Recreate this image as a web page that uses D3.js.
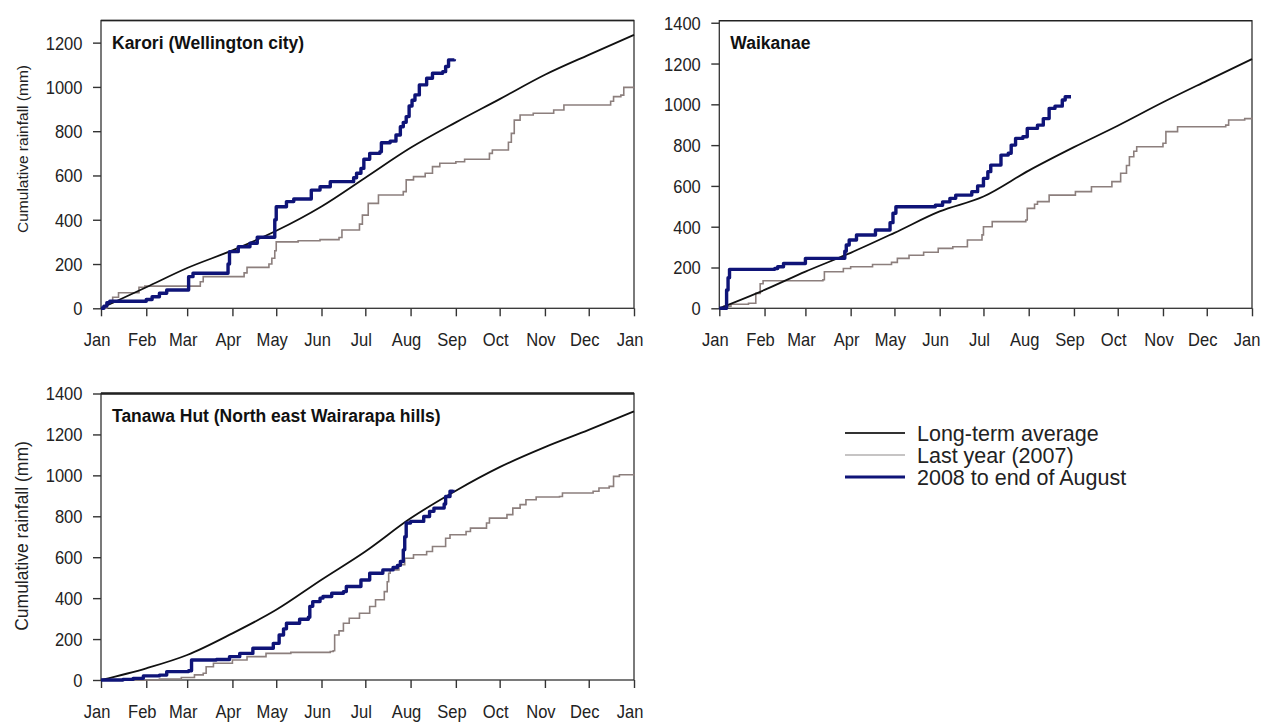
<!DOCTYPE html>
<html>
<head>
<meta charset="utf-8">
<script src="https://cdn.jsdelivr.net/npm/d3@7"></script>
<style>
  body { margin: 0; background: #ffffff; }
  svg { display: block; font-family: "Liberation Sans", Arial, Helvetica, sans-serif; }
</style>
</head>
<body>
<svg id="chart" width="1262" height="724"></svg>
<script>
// ---- Data -------------------------------------------------------------
// Month tick labels and the day-of-year each month starts on
const months = ["Jan", "Feb", "Mar", "Apr", "May", "Jun", "Jul", "Aug", "Sep", "Oct", "Nov", "Dec", "Jan"];
const monthStartDays = [0, 31, 59, 90, 120, 151, 181, 212, 243, 273, 304, 334, 365];

const seriesNames = ["Long-term average", "Last year (2007)", "2008 to end of August"];
const stationNames = ["Karori (Wellington city)", "Waikanae", "Tanawa Hut (North east Wairarapa hills)"];
const yAxisTitle = "Cumulative rainfall (mm)";

// Cumulative rainfall (mm) as [day of year, total]
const karoriAverage = [[0,0],[31,95],[59,182],[90,262],[120,350],[151,460],[181,590],[212,725],[243,840],[273,945],[304,1055],[334,1145],[365,1235]];
const karori2007 = [[0,0],[4,25],[8,50],[12,70],[26,95],[30,100],[68,120],[70,143],[98,160],[100,185],[115,200],[117,226],[119,260],[120,300],[135,305],[150,310],[163,320],[165,354],[177,380],[179,421],[183,474],[190,512],[207,527],[209,580],[214,595],[222,610],[227,640],[232,655],[243,662],[249,673],[266,700],[268,715],[279,750],[281,790],[283,850],[287,873],[296,881],[310,896],[317,918],[349,935],[351,956],[356,963],[358,998],[365,1001]];
const karori2008 = [[0,0],[2,10],[4,25],[6,32],[31,40],[35,52],[40,68],[45,83],[60,143],[63,158],[87,200],[88,256],[94,278],[102,294],[107,321],[119,400],[120,459],[127,482],[132,494],[144,534],[150,549],[157,572],[173,590],[175,610],[178,632],[180,673],[184,700],[191,707],[192,748],[198,755],[202,783],[205,820],[207,840],[209,866],[211,914],[213,940],[215,964],[218,1009],[223,1039],[227,1062],[234,1069],[236,1092],[238,1122],[242,1125]];

const waikanaeAverage = [[0,0],[31,90],[59,180],[90,272],[120,370],[151,475],[181,548],[212,675],[243,790],[273,895],[304,1010],[334,1115],[365,1222]];
const waikanae2007 = [[0,0],[3,10],[8,20],[20,25],[25,73],[28,120],[30,135],[71,140],[72,179],[85,195],[90,204],[105,215],[118,225],[122,245],[130,260],[140,275],[150,294],[160,302],[170,335],[180,360],[181,400],[187,425],[210,433],[211,490],[216,510],[218,523],[226,555],[244,572],[255,596],[269,621],[275,662],[279,700],[281,743],[284,770],[286,792],[304,809],[306,866],[314,890],[347,898],[349,923],[360,930],[365,936]];
const waikanae2008 = [[0,0],[4,0],[5,90],[6,150],[7,191],[38,195],[40,204],[44,220],[59,245],[86,280],[87,310],[89,335],[94,359],[107,384],[117,420],[119,466],[121,498],[148,505],[153,522],[158,539],[162,555],[173,572],[177,600],[181,637],[184,670],[186,702],[193,751],[198,760],[200,800],[203,833],[208,841],[211,882],[218,898],[222,930],[226,980],[230,991],[235,1021],[237,1037],[241,1037]];

const tanawaAverage = [[0,0],[31,57],[59,122],[90,228],[120,343],[151,490],[181,628],[212,790],[243,925],[273,1040],[304,1138],[334,1222],[365,1313]];
const tanawa2007 = [[0,0],[40,5],[55,12],[64,25],[70,33],[72,65],[77,82],[90,98],[100,114],[113,130],[130,135],[157,139],[159,143],[160,220],[163,240],[166,277],[170,302],[177,326],[184,359],[188,392],[194,432],[196,480],[197,522],[198,538],[204,563],[208,595],[214,612],[223,628],[227,652],[236,693],[239,710],[250,726],[253,742],[264,767],[266,791],[278,808],[282,840],[287,857],[291,881],[298,894],[314,897],[316,914],[337,922],[341,938],[348,946],[351,995],[355,1003],[365,1008]];
const tanawa2008 = [[0,0],[15,3],[22,8],[29,20],[40,24],[45,41],[60,45],[62,98],[79,100],[88,114],[95,130],[104,155],[118,179],[122,220],[125,250],[127,277],[136,297],[142,307],[143,360],[145,383],[150,400],[152,408],[158,424],[166,432],[168,457],[178,489],[184,522],[193,538],[200,550],[203,560],[205,579],[207,636],[208,700],[209,767],[212,775],[221,799],[225,824],[228,840],[235,860],[236,897],[239,922],[241,930]];

const karoriTicks = [0, 200, 400, 600, 800, 1000, 1200];
const fullTicks = [0, 200, 400, 600, 800, 1000, 1200, 1400];

// ---- Layout -----------------------------------------------------------
const panels = [
  { name: stationNames[0], left: 101, right: 634, top: 20.5, bottom: 308.3, yMax: 1300, ticks: karoriTicks,
    yTitle: { cy: 149, size: 15.5 }, avg: karoriAverage, last: karori2007, cur: karori2008, topWidth: 1.3 },
  { name: stationNames[1], left: 719.3, right: 1252, top: 20.7, bottom: 308.3, yMax: 1410, ticks: fullTicks,
    yTitle: null, avg: waikanaeAverage, last: waikanae2007, cur: waikanae2008, topWidth: 1.3 },
  { name: stationNames[2], left: 101, right: 634, top: 393.5, bottom: 680, yMax: 1400, ticks: fullTicks,
    yTitle: { cy: 536, size: 17.5 }, avg: tanawaAverage, last: tanawa2007, cur: tanawa2008, topWidth: 2.4 }
];

const colors = { avg: "#111111", last: "#8c7f7d", cur: "#0f1478" };
const svg = d3.select("#chart");
const labelScale = 0.92;

panels.forEach(p => {
  const x = d3.scaleLinear().domain([0, 365]).range([p.left, p.right]);
  const y = d3.scaleLinear().domain([0, p.yMax]).range([p.bottom, p.top]);
  const g = svg.append("g");

  // x axis (ticks hang below the frame)
  const xAxis = g.append("g")
    .attr("transform", `translate(0,${p.bottom})`)
    .call(d3.axisBottom(x).tickValues(monthStartDays).tickFormat((d, i) => months[i]).tickSize(8).tickSizeOuter(0));
  xAxis.select(".domain").remove();
  xAxis.selectAll(".tick line").attr("stroke", "#333").attr("stroke-width", 1.4);
  xAxis.selectAll(".tick text")
    .attr("y", 38).attr("dy", null).attr("x", -4.5 / labelScale)
    .attr("font-size", 18).attr("font-family", null).attr("fill", "#222")
    .attr("transform", `scale(${labelScale},1)`);
  // keep the final label inside the page on the right-hand panel
  if (p.right > 1200) {
    xAxis.selectAll(".tick text").filter((d, i) => i === monthStartDays.length - 1)
      .attr("text-anchor", "end").attr("x", 8 / labelScale);
  }

  // y axis
  const yAxis = g.append("g")
    .attr("transform", `translate(${p.left},0)`)
    .call(d3.axisLeft(y).tickValues(p.ticks).tickFormat(d3.format("d")).tickSize(8).tickSizeOuter(0));
  yAxis.select(".domain").remove();
  yAxis.selectAll(".tick line").attr("stroke", "#333").attr("stroke-width", 1.4);
  yAxis.selectAll(".tick text")
    .attr("x", -18.5 / labelScale).attr("dy", "0.36em")
    .attr("font-size", 18).attr("font-family", null).attr("fill", "#222")
    .attr("transform", `scale(${labelScale},1)`);

  // frame
  g.append("rect")
    .attr("x", p.left).attr("y", p.top)
    .attr("width", p.right - p.left).attr("height", p.bottom - p.top)
    .attr("fill", "none").attr("stroke", "#333").attr("stroke-width", 1.3);
  g.append("line")
    .attr("x1", p.left).attr("x2", p.right).attr("y1", p.top).attr("y2", p.top)
    .attr("stroke", "#222").attr("stroke-width", p.topWidth);

  // series
  const smooth = d3.line().x(d => x(d[0])).y(d => y(d[1])).curve(d3.curveMonotoneX);
  const steps = d3.line().x(d => x(d[0])).y(d => y(d[1])).curve(d3.curveStepAfter);

  g.append("path").datum(p.last).attr("d", steps)
    .attr("fill", "none").attr("stroke", colors.last).attr("stroke-width", 1.6);
  g.append("path").datum(p.avg).attr("d", smooth)
    .attr("fill", "none").attr("stroke", colors.avg).attr("stroke-width", 1.8);
  g.append("path").datum(p.cur).attr("d", steps)
    .attr("fill", "none").attr("stroke", colors.cur).attr("stroke-width", 3.4)
    .attr("stroke-linejoin", "round");

  // station title
  g.append("text")
    .attr("x", p.left + 11).attr("y", p.top + 28)
    .attr("font-size", 17.5).attr("font-weight", "bold").attr("fill", "#111")
    .text(p.name);

  if (p.yTitle) {
    g.append("text")
      .attr("transform", `translate(28,${p.yTitle.cy}) rotate(-90)`)
      .attr("text-anchor", "middle")
      .attr("font-size", p.yTitle.size).attr("fill", "#222")
      .text(yAxisTitle);
  }
});

// ---- Legend -----------------------------------------------------------
const legendItems = [
  { label: seriesNames[0], color: "#333333", width: 2 },
  { label: seriesNames[1], color: "#b3b0b0", width: 1.6 },
  { label: seriesNames[2], color: "#0f1478", width: 3 }
];
const legend = svg.append("g").attr("transform", "translate(845,433)");
legendItems.forEach((item, i) => {
  const row = legend.append("g").attr("transform", `translate(0,${i * 22})`);
  row.append("line").attr("x1", 0).attr("x2", 60).attr("y1", 0).attr("y2", 0)
    .attr("stroke", item.color).attr("stroke-width", item.width);
  row.append("text").attr("x", 72).attr("y", 7.5)
    .attr("font-size", 21.5).attr("fill", "#222")
    .text(item.label);
});
</script>
</body>
</html>
